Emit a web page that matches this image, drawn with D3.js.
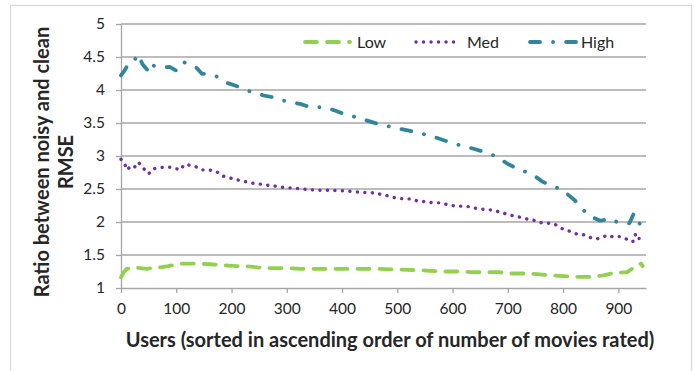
<!DOCTYPE html>
<html>
<head>
<meta charset="utf-8">
<script src="https://cdn.jsdelivr.net/npm/d3@7"></script>
<style>
  body { margin: 0; background: #fff; }
  text { font-family: Lato, "Open Sans", sans-serif; fill: #262626; }
</style>
</head>
<body>
<div id="chart"></div>
<script>
// values (x = user index, y = ratio)
var lowX = [0, 5, 10, 28, 46, 67, 85, 109, 130, 161, 179, 209, 224, 251, 272, 300, 324, 348, 369, 396, 420, 445, 466, 493, 505, 538, 559, 586, 608, 635, 656, 683, 704, 731, 753, 780, 801, 825, 849, 873, 888, 916, 928, 934, 941, 944];
var lowY = [1.16, 1.24, 1.29, 1.31, 1.29, 1.31, 1.33, 1.37, 1.37, 1.36, 1.35, 1.33, 1.33, 1.31, 1.30, 1.30, 1.29, 1.29, 1.29, 1.29, 1.29, 1.29, 1.29, 1.28, 1.28, 1.27, 1.26, 1.25, 1.25, 1.24, 1.24, 1.24, 1.22, 1.22, 1.21, 1.19, 1.18, 1.17, 1.17, 1.19, 1.22, 1.24, 1.31, 1.34, 1.37, 1.33];

var medX = [0, 2, 7, 10, 15, 21, 28, 33, 41, 49, 57, 60, 70, 77, 88, 99, 108, 114, 126, 138, 147, 159, 172, 183, 196, 209, 221, 235, 248, 262, 275, 287, 301, 315, 328, 355, 382, 408, 434, 461, 474, 487, 499, 513, 526, 539, 552, 565, 579, 592, 606, 618, 632, 646, 659, 672, 686, 698, 711, 724, 737, 751, 763, 777, 790, 800, 812, 824, 836, 847, 859, 869, 880, 892, 903, 915, 922, 928, 931, 937, 938, 942];
var medY = [2.95, 2.93, 2.88, 2.79, 2.82, 2.86, 2.82, 2.89, 2.81, 2.73, 2.77, 2.81, 2.82, 2.83, 2.83, 2.81, 2.79, 2.87, 2.86, 2.83, 2.79, 2.79, 2.77, 2.70, 2.67, 2.64, 2.62, 2.59, 2.58, 2.56, 2.55, 2.53, 2.52, 2.51, 2.50, 2.48, 2.48, 2.47, 2.45, 2.44, 2.41, 2.39, 2.36, 2.35, 2.35, 2.31, 2.31, 2.29, 2.29, 2.26, 2.24, 2.24, 2.23, 2.20, 2.19, 2.18, 2.15, 2.12, 2.09, 2.07, 2.04, 2.02, 1.98, 1.98, 1.95, 1.89, 1.86, 1.82, 1.81, 1.77, 1.74, 1.76, 1.80, 1.77, 1.78, 1.74, 1.70, 1.71, 1.81, 1.81, 1.71, 1.70];

var highX = [0, 7, 15, 25, 31, 39, 52, 58, 74, 88, 101, 114, 135, 146, 170, 191, 209, 233, 257, 275, 298, 324, 342, 367, 387, 405, 429, 463, 499, 535, 570, 605, 638, 662, 677, 702, 725, 743, 763, 789, 801, 821, 837, 846, 867, 888, 897, 920, 928, 932, 941];
var highY = [4.22, 4.30, 4.43, 4.46, 4.54, 4.39, 4.26, 4.37, 4.34, 4.35, 4.29, 4.42, 4.35, 4.25, 4.22, 4.11, 4.06, 3.98, 3.92, 3.89, 3.83, 3.79, 3.74, 3.74, 3.69, 3.63, 3.58, 3.49, 3.42, 3.36, 3.28, 3.18, 3.11, 3.05, 3.00, 2.87, 2.78, 2.73, 2.61, 2.52, 2.47, 2.33, 2.18, 2.10, 2.02, 2.05, 2.00, 1.98, 2.13, 2.04, 1.95];

var seriesNames = ["Low", "Med", "High"];
var xTicks = [0, 100, 200, 300, 400, 500, 600, 700, 800, 900];
var yTicks = [1, 1.5, 2, 2.5, 3, 3.5, 4, 4.5, 5];

var W = 695, H = 371;
var margin = { top: 24, right: 49, bottom: 83, left: 121 };
var width = W - margin.left - margin.right,
    height = H - margin.top - margin.bottom;

var root = d3.select("#chart").append("svg")
  .attr("width", W)
  .attr("height", H);

// chart frame
root.append("rect")
  .attr("x", 10.5).attr("y", 5.5)
  .attr("width", 681).attr("height", 400)
  .attr("fill", "none")
  .attr("stroke", "#d9d9d9")
  .attr("stroke-width", 1.2);

var svg = root.append("g")
  .attr("transform", "translate(" + margin.left + "," + margin.top + ")");

var x = d3.scaleLinear().domain([0, 950]).range([0, width]);
var y = d3.scaleLinear().domain([1, 5]).range([height, 0]);

// gridlines
svg.selectAll(".grid")
  .data(yTicks.slice(1))
  .enter()
  .append("line")
  .attr("x1", 0).attr("x2", width)
  .attr("y1", function(d) { return y(d); })
  .attr("y2", function(d) { return y(d); })
  .attr("stroke", "#a6a6a6")
  .attr("stroke-width", 1.3);

var xAxis = d3.axisBottom(x).tickValues(xTicks).tickSize(5).tickSizeOuter(0).tickPadding(10);
var yAxis = d3.axisLeft(y).tickValues(yTicks).tickSize(5).tickSizeOuter(0).tickPadding(11)
  .tickFormat(function(d) { return d; });

var gx = svg.append("g")
  .attr("transform", "translate(0," + height + ")")
  .call(xAxis);
var gy = svg.append("g").call(yAxis);

[gx, gy].forEach(function(g) {
  g.selectAll("path, line").attr("stroke", "#a6a6a6").attr("stroke-width", 1.3);
  g.selectAll("text")
    .style("font-size", "15.5px")
    .style("font-family", "Lato, 'Open Sans', sans-serif")
    .attr("fill", "#333");
});

// series
var series = [
  { name: "Low", xs: lowX, ys: lowY, color: "#92d050", dash: "12,10", w: 3.8 },
  { name: "Med", xs: medX, ys: medY, color: "#7030a0", dash: "0.1,7.4", w: 3.4 },
  { name: "High", xs: highX, ys: highY, color: "#31859c", dash: "10,13,0.1,13", w: 3.8 }
];

var line = d3.line()
  .x(function(d) { return x(d[0]); })
  .y(function(d) { return y(d[1]); });

series.forEach(function(s) {
  var pts = s.xs.map(function(v, i) { return [v, s.ys[i]]; });
  svg.append("path")
    .datum(pts)
    .attr("d", line)
    .attr("fill", "none")
    .attr("stroke", s.color)
    .attr("stroke-width", s.w)
    .attr("stroke-dasharray", s.dash)
    .attr("stroke-linecap", "round")
    .attr("stroke-linejoin", "round");
});

// legend
var legendPos = [
  { x1: 305, x2: 350, tx: 357 },
  { x1: 416, x2: 458, tx: 467 },
  { x1: 530, x2: 576, tx: 581 }
];
var legendY = 42;
series.forEach(function(s, i) {
  var p = legendPos[i];
  root.append("line")
    .attr("x1", p.x1).attr("x2", p.x2)
    .attr("y1", legendY).attr("y2", legendY)
    .attr("stroke", s.color)
    .attr("stroke-width", s.w)
    .attr("stroke-dasharray", s.dash)
    .attr("stroke-linecap", "round");
  root.append("text")
    .attr("x", p.tx)
    .attr("y", legendY)
    .attr("dy", "0.35em")
    .style("font-size", "16px")
    .attr("fill", "#333")
    .text(seriesNames[i]);
});

// axis titles
root.append("text")
  .attr("x", 390)
  .attr("y", 347)
  .attr("text-anchor", "middle")
  .style("font-size", "20px")
  .style("font-weight", "bold")
  .text("Users (sorted in ascending order of number of movies rated)");

var yTitle = root.append("text")
  .attr("transform", "translate(49,162) rotate(-90)")
  .attr("text-anchor", "middle")
  .style("font-size", "20px")
  .style("font-weight", "bold");
yTitle.append("tspan").attr("x", 0).attr("y", 0).text("Ratio between noisy and clean");
yTitle.append("tspan").attr("x", 0).attr("y", 24).text("RMSE");
</script>
</body>
</html>
